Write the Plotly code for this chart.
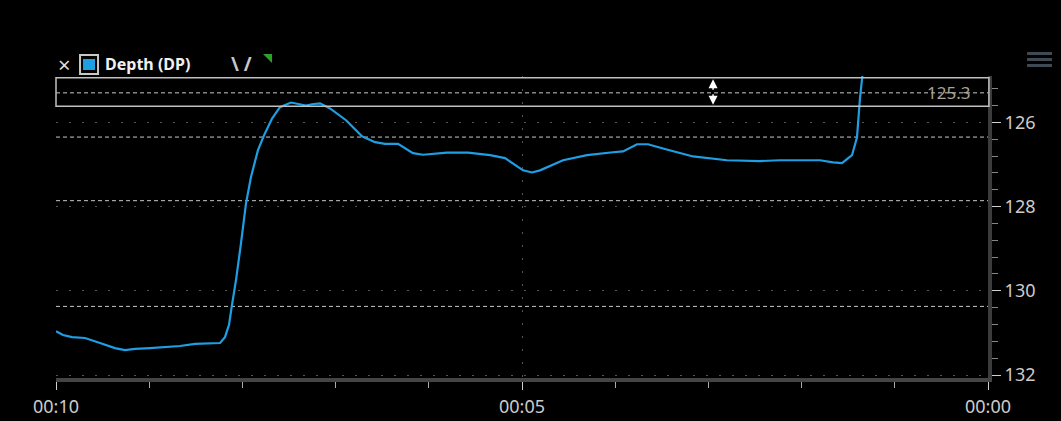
import plotly.graph_objects as go

# depth trace, time counts down from 00:10 to 00:00
time_s = [10.0, 9.925, 9.828, 9.689, 9.528, 9.367, 9.26, 9.152, 8.991, 8.83,
          8.67, 8.509, 8.348, 8.24, 8.187, 8.144, 8.112, 8.069, 8.015, 7.961,
          7.908, 7.833, 7.768, 7.682, 7.597, 7.479, 7.318, 7.253, 7.167, 7.06,
          6.888, 6.717, 6.577, 6.47, 6.33, 6.17, 6.062, 5.805, 5.579, 5.343,
          5.182, 5.097, 4.989, 4.893, 4.807, 4.56, 4.303, 4.024, 3.916, 3.766,
          3.648, 3.487, 3.165, 2.8, 2.446, 2.232, 1.803, 1.663, 1.567, 1.459,
          1.406, 1.373, 1.352, 1.33]
depth = [130.96, 131.05, 131.1, 131.12, 131.24, 131.36, 131.41, 131.38, 131.36, 131.34,
         131.31, 131.26, 131.24, 131.24, 131.1, 130.81, 130.34, 129.75, 128.87, 127.92,
         127.3, 126.66, 126.31, 125.91, 125.64, 125.53, 125.6, 125.57, 125.55, 125.67,
         125.95, 126.33, 126.47, 126.51, 126.51, 126.73, 126.77, 126.72, 126.72, 126.78,
         126.85, 126.97, 127.14, 127.19, 127.14, 126.9, 126.78, 126.71, 126.69, 126.52,
         126.52, 126.62, 126.81, 126.9, 126.92, 126.9, 126.9, 126.95, 126.97, 126.78,
         126.36, 125.41, 124.93, 124.53]

x_tickvals = [10, 5, 0]
x_ticktext = ["00:10", "00:05", "00:00"]
y_tickvals = [126, 128, 130, 132]
ref_levels = [126.35, 127.86, 130.37]  # dashed marker lines
cursor_value = 125.3
cursor_time = 2.95

LINE_BLUE = "#1e9fe3"
FONT = "Noto Sans"

fig = go.Figure()
fig.add_trace(go.Scatter(x=time_s, y=depth, mode="lines",
                         line=dict(color=LINE_BLUE, width=2.2), hoverinfo="skip"))

shapes = []
for lvl in ref_levels + [cursor_value]:
    shapes.append(dict(type="line", xref="paper", x0=0, x1=1, yref="y", y0=lvl, y1=lvl,
                       line=dict(color="#c8c8c8", width=1, dash="4px,3px"), layer="below"))

# cursor band around the value readout
shapes.append(dict(type="rect", xref="paper", x0=0, x1=1.001, yref="y", y0=124.94, y1=125.62,
                   line=dict(color="#c0c0c0", width=1.5)))

# legend swatch
shapes.append(dict(type="rect", xref="paper", yref="paper",
                   x0=0.0258, x1=0.0451, y0=1.0066, y1=1.0695,
                   line=dict(color="#c8c8c8", width=2), fillcolor="#000"))
shapes.append(dict(type="rect", xref="paper", yref="paper",
                   x0=0.0290, x1=0.0419, y0=1.0199, y1=1.0563,
                   line=dict(width=0), fillcolor=LINE_BLUE))
# green corner flag
shapes.append(dict(type="path", xref="paper", yref="paper",
                   path="M 0.2221 1.0728 L 0.2318 1.0728 L 0.2318 1.0430 Z",
                   line=dict(width=0), fillcolor="#2ca02c"))
# hamburger menu
for y0 in (1.0695, 1.0497, 1.0298):
    shapes.append(dict(type="rect", xref="paper", yref="paper",
                       x0=1.0419, x1=1.0687, y0=y0, y1=y0 + 0.0099,
                       line=dict(width=0), fillcolor="#3d4a54"))

annotations = [
    dict(text="×", xref="paper", yref="paper", x=0.0086, y=1.0397, xanchor="center",
         yanchor="middle", showarrow=False, font=dict(family=FONT, size=22, color="#dddddd")),
    dict(text="<b>Depth (DP)</b>", xref="paper", yref="paper", x=0.0505, y=1.0397,
         xanchor="left", yanchor="middle", showarrow=False,
         font=dict(family=FONT, size=16, color="#f0f0f0")),
    dict(text="<b>\\ /</b>", xref="paper", yref="paper", x=0.186, y=1.0397,
         xanchor="left", yanchor="middle", showarrow=False,
         font=dict(family=FONT, size=19, color="#c8c8c8")),
    dict(text="125.3", xref="paper", yref="y", x=0.983, y=cursor_value,
         xanchor="right", yanchor="middle", showarrow=False,
         font=dict(family=FONT, size=17, color="#a8a298")),
]
# double-headed arrow in the cursor band
for head_y, tail in ((124.98, 12), (125.58, -12)):
    annotations.append(dict(x=cursor_time, y=head_y, xref="x", yref="y", ax=0, ay=tail,
                            text="", showarrow=True, arrowhead=2, arrowsize=1.2,
                            arrowwidth=1.5, arrowcolor="#ffffff"))

fig.update_layout(
    width=1061, height=421,
    paper_bgcolor="#000", plot_bgcolor="#000",
    margin=dict(l=56, r=73, t=76, b=43),
    showlegend=False,
    shapes=shapes,
    annotations=annotations,
    font=dict(family=FONT, color="#cccccc"),
)
fig.update_xaxes(
    range=[10, 0], tickvals=x_tickvals, ticktext=x_ticktext, automargin=False,
    showline=True, linecolor="#444444", linewidth=4,
    ticks="outside", ticklen=8, tickcolor="#cfcfcf", tickwidth=1,
    tickfont=dict(family=FONT, size=18, color="#cccccc"), ticklabelstandoff=1,
    showgrid=True, gridcolor="#555555", griddash="2px,11px", gridwidth=1,
    minor=dict(dtick=1, tick0=0, ticks="outside", ticklen=6, tickcolor="#aaaaaa",
               showgrid=False),
    zeroline=False,
)
fig.update_yaxes(
    range=[132.07, 124.9], side="right", tickvals=y_tickvals, automargin=False,
    showline=True, linecolor="#3c3c3c", linewidth=4,
    ticks="outside", ticklen=9, tickcolor="#cfcfcf", tickwidth=1,
    tickfont=dict(family=FONT, size=18, color="#cccccc"),
    showgrid=True, gridcolor="#555555", griddash="2px,11px", gridwidth=1,
    minor=dict(dtick=0.4, tick0=126, ticks="outside", ticklen=6, tickcolor="#888888",
               showgrid=False),
    zeroline=False,
)

fig.write_html("out.html", config={"displayModeBar": False},
               post_script="document.body.style.margin='0';")
